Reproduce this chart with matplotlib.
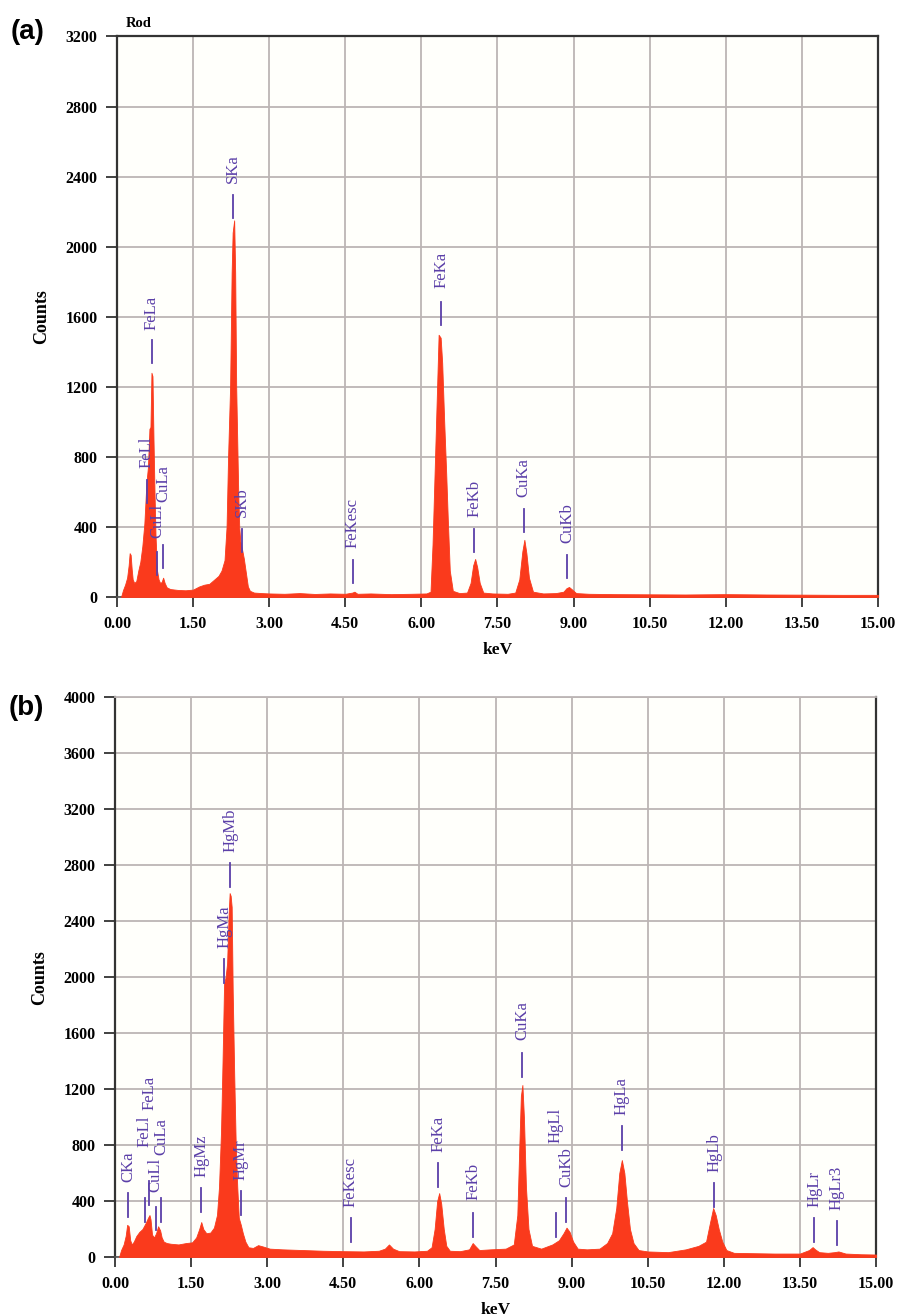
import matplotlib
matplotlib.use("Agg")
import matplotlib.pyplot as plt

# ---- panel (a) spectrum ----
kev_a = [0.08, 0.12, 0.16, 0.20, 0.23, 0.25, 0.27, 0.29, 0.31, 0.34, 0.38, 0.42, 0.46, 0.50,
         0.54, 0.58, 0.61, 0.64, 0.66, 0.68, 0.70, 0.72, 0.74, 0.76, 0.79, 0.82, 0.85, 0.88,
         0.91, 0.94, 0.98, 1.05, 1.20, 1.35, 1.50, 1.62, 1.72, 1.82, 1.92, 2.00, 2.06, 2.12,
         2.16, 2.19, 2.23, 2.26, 2.28, 2.31, 2.33, 2.35, 2.37, 2.39, 2.41, 2.43, 2.46, 2.50,
         2.54, 2.58, 2.62, 2.70, 2.85, 3.00, 3.30, 3.60, 3.90, 4.20, 4.50, 4.64, 4.68, 4.74,
         5.00, 5.40, 5.80, 6.10, 6.18, 6.22, 6.26, 6.30, 6.34, 6.38, 6.41, 6.45, 6.49, 6.52,
         6.56, 6.62, 6.75, 6.90, 6.97, 7.02, 7.06, 7.10, 7.15, 7.22, 7.40, 7.70, 7.85, 7.93,
         7.99, 8.03, 8.07, 8.12, 8.20, 8.40, 8.65, 8.80, 8.86, 8.91, 8.96, 9.05, 9.30, 9.80,
         10.5, 11.2, 12.0, 12.8, 13.6, 14.3, 15.0]
cnt_a = [0, 40, 70, 110, 180, 250, 240, 160, 100, 80, 90, 150, 200, 290,
         420, 650, 740, 960, 970, 1280, 1260, 900, 600, 350, 150, 100, 80, 85,
         110, 80, 55, 45, 40, 38, 42, 60, 70, 75, 100, 120, 150, 210,
         400, 800, 1200, 1850, 2080, 2150, 1850, 1200, 900, 600, 400, 320, 280, 220,
         140, 60, 35, 25, 22, 20, 18, 22, 17, 20, 18, 25, 30, 18,
         20, 16, 18, 20, 30, 300, 700, 1100, 1497, 1480, 1337, 1000, 700, 450,
         150, 35, 22, 25, 80, 180, 217, 170, 80, 25, 20, 18, 25, 100,
         260, 326, 250, 110, 30, 20, 22, 30, 50, 57, 45, 22, 18, 16,
         15, 14, 16, 14, 13, 12, 12]

# peak markers (a): name, keV, marker bottom, label bottom (counts)
lab_a = ["FeLl", "FeLa", "CuLl", "CuLa", "SKa", "SKb", "FeKesc", "FeKa", "FeKb", "CuKa", "CuKb"]
lx_a = [0.59, 0.69, 0.79, 0.91, 2.29, 2.46, 4.65, 6.39, 7.04, 8.02, 8.87]
mb_a = [537, 1337, 126, 166, 2166, 257, 80, 1554, 257, 371, 109]
tb_a = [737, 1526, 337, 543, 2366, 457, 280, 1766, 457, 571, 309]

# ---- panel (b) spectrum ----
kev_b = [0.08, 0.12, 0.17, 0.21, 0.24, 0.27, 0.30, 0.33, 0.37, 0.42, 0.48, 0.54, 0.60, 0.65,
         0.68, 0.70, 0.73, 0.77, 0.81, 0.85, 0.89, 0.92, 0.96, 1.02, 1.10, 1.25, 1.40, 1.52,
         1.60, 1.66, 1.70, 1.74, 1.80, 1.88, 1.95, 2.01, 2.05, 2.09, 2.12, 2.15, 2.18, 2.21,
         2.24, 2.26, 2.28, 2.30, 2.32, 2.35, 2.38, 2.41, 2.44, 2.48, 2.52, 2.57, 2.63, 2.72,
         2.82, 2.92, 3.05, 3.30, 3.70, 4.10, 4.50, 4.90, 5.20, 5.32, 5.40, 5.48, 5.60, 5.90,
         6.15, 6.24, 6.30, 6.35, 6.39, 6.43, 6.48, 6.53, 6.60, 6.80, 6.98, 7.05, 7.10, 7.18,
         7.40, 7.70, 7.86, 7.93, 7.97, 8.00, 8.03, 8.06, 8.10, 8.15, 8.22, 8.40, 8.62, 8.75,
         8.84, 8.90, 8.96, 9.03, 9.12, 9.30, 9.55, 9.70, 9.80, 9.88, 9.94, 9.99, 10.04, 10.09,
         10.15, 10.22, 10.32, 10.50, 10.90, 11.25, 11.50, 11.65, 11.73, 11.79, 11.84, 11.90,
         11.97, 12.05, 12.20, 12.50, 13.00, 13.50, 13.68, 13.75, 13.80, 13.88, 14.05, 14.18,
         14.26, 14.40, 14.70, 15.0]
cnt_b = [0, 50, 90, 150, 230, 220, 120, 90, 110, 150, 180, 200, 240, 280,
         300, 270, 160, 140, 170, 220, 190, 140, 110, 100, 95, 90, 100, 105,
         140, 200, 250, 200, 170, 175, 210, 300, 500, 900, 1400, 1950, 2000, 2100,
         2450, 2600, 2580, 2500, 1900, 1300, 800, 500, 280, 230, 170, 110, 70, 65,
         85, 75, 60, 55, 50, 45, 42, 40, 45, 60, 90, 60, 42, 40,
         45, 70, 200, 400, 457, 380, 200, 80, 45, 42, 55, 100, 80, 50,
         55, 60, 90, 300, 800, 1150, 1229, 1000, 500, 200, 80, 60, 90, 120,
         170, 210, 180, 110, 60, 55, 60, 100, 170, 350, 600, 693, 600, 400,
         200, 100, 50, 40, 35, 55, 80, 110, 250, 350, 300, 200,
         110, 50, 30, 28, 25, 25, 50, 71, 55, 35, 30, 35,
         40, 25, 20, 18]

lab_b = ["CKa", "FeLl", "FeLa", "CuLl", "CuLa", "HgMz", "HgMa", "HgMb", "HgMr", "FeKesc",
         "FeKa", "FeKb", "CuKa", "HgLl", "CuKb", "HgLa", "HgLb", "HgLr", "HgLr3"]
lx_b = [0.26, 0.59, 0.68, 0.80, 0.91, 1.70, 2.15, 2.27, 2.48, 4.65,
        6.37, 7.06, 8.02, 8.69, 8.89, 9.99, 11.81, 13.78, 14.23]
mb_b = [286, 250, 370, 190, 250, 321, 1957, 2643, 300, 107,
        500, 143, 1286, 143, 250, 764, 357, 107, 86]
tb_b = [536, 786, 1050, 464, 729, 571, 2207, 2893, 550, 357,
        750, 407, 1550, 814, 500, 1014, 607, 357, 336]

xticks = [0, 1.5, 3, 4.5, 6, 7.5, 9, 10.5, 12, 13.5, 15]
xtick_labels = ["0.00", "1.50", "3.00", "4.50", "6.00", "7.50", "9.00", "10.50", "12.00", "13.50", "15.00"]

red = "#fa3a1c"
purple = "#5b3fa8"
gridc = "#bcb5b5"
serif = "Liberation Serif"

fig = plt.figure(figsize=(8.97, 13.16), dpi=100)


def panel(rect, kev, cnt, labs, lx, mb, tb, ymax, mlen, top_dark):
    ax = fig.add_axes(rect)
    ax.set_facecolor("#fffffb")
    ax.fill_between(kev, 0, cnt, color=red, linewidth=0.6, zorder=3)
    ax.set_xlim(0, 15)
    ax.set_ylim(0, ymax)
    ax.set_xticks(xticks)
    ax.set_xticklabels(xtick_labels)
    ax.set_yticks(range(0, ymax + 1, 400))
    ax.grid(True, color=gridc, linewidth=1.3, zorder=0)
    ax.set_axisbelow(True)
    for lab in ax.get_xticklabels() + ax.get_yticklabels():
        lab.set_fontfamily(serif)
        lab.set_fontweight("bold")
        lab.set_fontsize(11.5)
    ax.tick_params(direction="out", length=8, width=1.3, color="#333333", pad=6)
    ax.tick_params(axis="x", length=7, pad=7)
    for s in ["left", "right"]:
        ax.spines[s].set_color("#333333")
        ax.spines[s].set_linewidth(1.6)
    ax.spines["bottom"].set_color("#555555")
    ax.spines["bottom"].set_linewidth(1.2)
    ax.spines["top"].set_color("#333333" if top_dark else gridc)
    ax.spines["top"].set_linewidth(1.6 if top_dark else 1.3)
    ax.set_xlabel("keV", fontfamily=serif, fontweight="bold", fontsize=12.5, labelpad=7)
    ax.set_ylabel("Counts", fontfamily=serif, fontweight="bold", fontsize=13, labelpad=11)
    for name, x, b, t in zip(labs, lx, mb, tb):
        ax.plot([x, x], [b, b + mlen], color=purple, linewidth=1.3, zorder=4)
        ax.text(x, t, name, rotation=90, ha="center", va="bottom", color=purple,
                fontfamily=serif, fontsize=12, zorder=5)
    return ax


ax1 = panel([0.1304, 0.5464, 0.8484, 0.4259], kev_a, cnt_a, lab_a, lx_a, mb_a, tb_a,
            3200, 130, True)
ax1.text(0.012, 1.012, "Rod", transform=ax1.transAxes, fontfamily=serif,
         fontweight="bold", fontsize=10.5, va="bottom")

ax2 = panel([0.1282, 0.0448, 0.8484, 0.4255], kev_b, cnt_b, lab_b, lx_b, mb_b, tb_b,
            4000, 170, False)

fig.text(0.012, 0.976, "(a)", fontfamily="Liberation Sans", fontweight="bold",
         fontsize=20, va="center")
fig.text(0.010, 0.462, "(b)", fontfamily="Liberation Sans", fontweight="bold",
         fontsize=20, va="center")

fig.savefig("out.png", dpi=100, facecolor="white")
